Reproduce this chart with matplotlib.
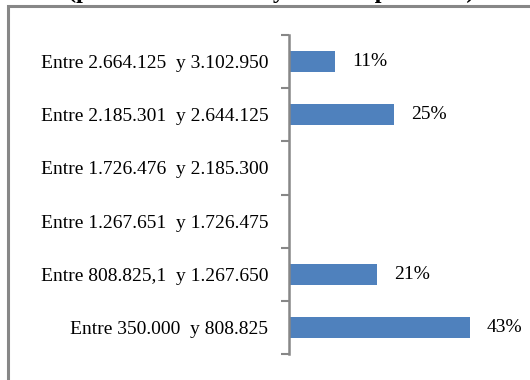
import matplotlib.pyplot as plt
from matplotlib.patches import Rectangle

rangos = ['Entre 350.000  y 808.825',
          'Entre 808.825,1  y 1.267.650',
          'Entre 1.267.651  y 1.726.475',
          'Entre 1.726.476  y 2.185.300',
          'Entre 2.185.301  y 2.644.125',
          'Entre 2.664.125  y 3.102.950']
porcentajes = [43, 21, 0, 0, 25, 11]
titulo = '(pesos colombianos y total de personas)'

plt.rcParams['font.family'] = ['Liberation Serif', 'DejaVu Serif']

fig = plt.figure(figsize=(5.3, 3.8), dpi=100)

# marco gris del grafico (se sale por la derecha y por abajo)
fig.patches.append(Rectangle((8 / 530, -0.1), 1.1, 1.1 - 6 / 380,
                             transform=fig.transFigure, fill=False,
                             edgecolor='#878787', linewidth=2.2))
# titulo cortado por el borde superior
fig.text(271 / 530, 1 + 2 / 380, titulo, ha='center', va='baseline',
         fontsize=17.5, fontweight='bold')

ax = fig.add_axes([289 / 530, 1 - 354 / 380, 210 / 530, 319 / 380])
pos = range(len(rangos))
ax.barh(pos, porcentajes, height=0.4, color='#4F81BD')
for p, v in zip(pos, porcentajes):
    if v > 0:
        ax.text(v + 4, p, f'{v}%', va='center', ha='left', fontsize=14)

ax.set_xlim(0, 50)
ax.set_ylim(-0.5, len(rangos) - 0.5)
ax.set_yticks(pos)
ax.set_yticklabels(rangos, fontsize=14)
ax.set_yticks([i - 0.5 for i in range(len(rangos) + 1)], minor=True)
ax.tick_params(axis='y', which='major', length=0, pad=15)
ax.tick_params(axis='y', which='minor', length=6, width=1.5, color='#878787')
ax.set_xticks([])
for s in ['top', 'right', 'bottom']:
    ax.spines[s].set_visible(False)
ax.spines['left'].set_color('#878787')
ax.spines['left'].set_linewidth(1.8)
ax.patch.set_alpha(0)

fig.savefig('out.png')
